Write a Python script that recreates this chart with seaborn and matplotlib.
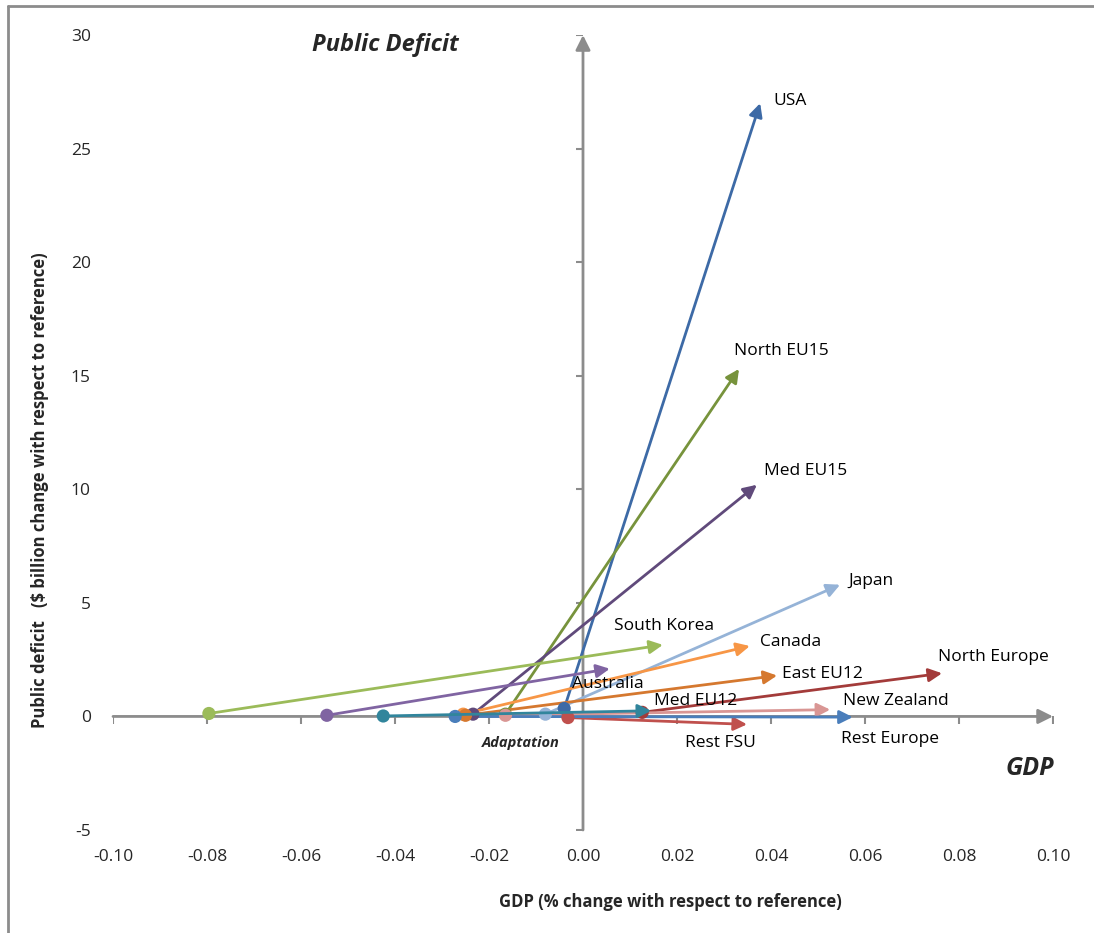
import pandas as pd
import matplotlib
matplotlib.use("Agg")
import matplotlib.pyplot as plt
import matplotlib.lines as mlines
import seaborn as sns

# --- DATA ---
regions = ["USA", "North EU15", "Med EU15", "Japan", "South Korea", "Canada",
           "Australia", "East EU12", "North Europe", "Med EU12", "New Zealand",
           "Rest FSU", "Rest Europe"]
gdp_start = [-0.0040, -0.0165, -0.0234, -0.0080, -0.0796, -0.0255,
             -0.0545, -0.0250, 0.0126, -0.0425, -0.0165, -0.0032, -0.0272]
deficit_start = [0.35, 0.10, 0.10, 0.10, 0.13, 0.10,
                 0.05, 0.05, 0.18, 0.02, 0.05, -0.05, 0.00]
gdp_end = [0.0377, 0.0332, 0.0370, 0.0547, 0.0170, 0.0355,
           0.0057, 0.0413, 0.0764, 0.0145, 0.0526, 0.0349, 0.0574]
deficit_end = [27.0, 15.3, 10.2, 5.8, 3.15, 3.1,
               2.1, 1.8, 1.9, 0.25, 0.3, -0.35, -0.03]
colors = ["#3d6aa6", "#77933c", "#604a7b", "#95b3d7", "#9bbb59", "#f79646",
          "#8064a2", "#d5782f", "#a33b3a", "#31859c", "#d99694", "#c0504d", "#4a7ebb"]
label_x = [0.0406, 0.0321, 0.0385, 0.0564, 0.0066, 0.0377,
           -0.0023, 0.0423, 0.0755, 0.0151, 0.0553, 0.0217, 0.0549]
label_y = [27.1, 16.1, 10.8, 5.95, 4.0, 3.26,
           1.45, 1.85, 2.6, 0.7, 0.66, -1.19, -1.0]

x_ticks = [-0.10, -0.08, -0.06, -0.04, -0.02, 0.00, 0.02, 0.04, 0.06, 0.08, 0.10]
y_ticks = [-5, 0, 5, 10, 15, 20, 25, 30]

df = pd.DataFrame({"region": regions, "x0": gdp_start, "y0": deficit_start,
                   "x1": gdp_end, "y1": deficit_end})
palette = dict(zip(regions, colors))

# --- STYLE ---
sns.set_style("white")
plt.rcParams["font.family"] = ["Open Sans", "DejaVu Sans"]
plt.rcParams["axes.unicode_minus"] = False
axis_grey = "#8c8c8c"

fig = plt.figure(figsize=(10.94, 9.33), dpi=100)
ax = fig.add_axes([0.1033, 0.1104, 0.8592, 0.852])
ax.set_xlim(-0.10, 0.10)
ax.set_ylim(-5, 30)

# axes crossing at zero, with arrow heads
ax.annotate("", xy=(0.10, 0), xytext=(-0.10, 0),
            arrowprops=dict(arrowstyle="-|>", color=axis_grey, lw=2, mutation_scale=22,
                            shrinkA=0, shrinkB=0), zorder=1)
ax.annotate("", xy=(0, 30), xytext=(0, -5),
            arrowprops=dict(arrowstyle="-|>", color=axis_grey, lw=2, mutation_scale=22,
                            shrinkA=0, shrinkB=0), zorder=1)
ax.plot(x_ticks, [0] * len(x_ticks), linestyle="none", marker=3, markersize=6,
        markeredgewidth=1.5, color=axis_grey, zorder=1)
ax.plot([0] * len(y_ticks), y_ticks, linestyle="none", marker=0, markersize=5,
        markeredgewidth=1.5, color=axis_grey, zorder=1)

# arrows for every region (Med EU12 drawn on top, as in the original)
for _, r in df.iterrows():
    z = 4 if r.region == "Med EU12" else 2
    ax.annotate("", xy=(r.x1, r.y1), xytext=(r.x0, r.y0),
                arrowprops=dict(arrowstyle="-|>", color=palette[r.region], lw=2,
                                mutation_scale=20, shrinkA=0, shrinkB=0), zorder=z)

sns.scatterplot(data=df, x="x0", y="y0", hue="region", palette=palette, s=90,
                edgecolor="none", legend=False, ax=ax, zorder=3)

for name, lx, ly in zip(regions, label_x, label_y):
    ax.text(lx, ly, name, fontsize=12.5, ha="left", va="center", color="black")

ax.text(-0.042, 29.55, "Public Deficit", fontsize=17, fontweight="bold",
        fontstyle="italic", ha="center", va="center")
ax.text(0.095, -2.3, "GDP", fontsize=18, fontweight="bold", fontstyle="italic",
        ha="center", va="center")
ax.text(-0.0132, -1.15, "Adaptation", fontsize=10.5, fontweight="bold",
        fontstyle="italic", ha="center", va="center")

# tick labels away from the crossing axes
for s in ax.spines.values():
    s.set_visible(False)
ax.set_xticks(x_ticks)
ax.set_xticklabels([f"{t:.2f}" for t in x_ticks])
ax.set_yticks(y_ticks)
ax.set_yticklabels([str(t) for t in y_ticks])
ax.tick_params(axis="both", length=0, labelsize=12.5)
ax.tick_params(axis="x", pad=14)
ax.tick_params(axis="y", pad=16)
ax.set_xlabel("")
ax.set_ylabel("")

fig.text(670 / 1094, 1 - 902 / 933, "GDP (% change with respect to reference)",
         fontsize=12, fontweight="bold", ha="center", va="center")
fig.text(40 / 1094, 1 - 490 / 933,
         "Public deficit   ($ billion change with respect to reference)",
         fontsize=12, fontweight="bold", ha="center", va="center", rotation=90)

# chart frame (left and top edges visible)
fig.add_artist(mlines.Line2D([8 / 1094, 8 / 1094], [0, 1 - 6 / 933],
                             color=axis_grey, lw=2, transform=fig.transFigure))
fig.add_artist(mlines.Line2D([8 / 1094, 1], [1 - 6 / 933, 1 - 6 / 933],
                             color=axis_grey, lw=2, transform=fig.transFigure))

plt.savefig("out.png", dpi=100)
